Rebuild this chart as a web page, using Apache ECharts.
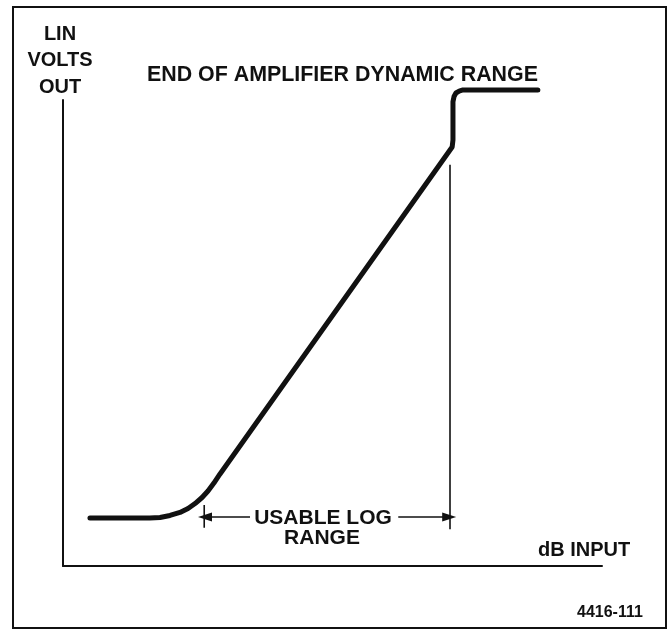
<!DOCTYPE html>
<html>
<head>
<meta charset="utf-8">
<script src="https://cdn.jsdelivr.net/npm/echarts@6/dist/echarts.min.js"></script>
<style>
  html, body { margin: 0; padding: 0; background: #fff; }
  #chart { width: 670px; height: 630px; }
</style>
</head>
<body>
<div id="chart"></div>
<script>
// Log amplifier transfer curve: dB input (x) against linear volts out (y), arbitrary units 0..100
const inputDb = [5.0, 16.1, 18.0, 19.85, 21.7, 23.2, 24.5, 25.8, 26.9, 28.0, 29.1,
                 72.2, 72.35, 72.35, 72.55, 72.9, 73.5, 74.2, 88.1];
const voltsOut = [10.3, 10.3, 10.4, 10.85, 11.5, 12.35, 13.4, 14.7, 16.1, 17.8, 19.7,
                  89.9, 91.4, 99.6, 100.75, 101.5, 101.9, 102.15, 102.15];

// Limits of the usable log range on the input axis
const usableRange = [26.2, 71.8];

// Text content
const titleText = 'END OF AMPLIFIER DYNAMIC RANGE';
const yAxisLabel = ['LIN', 'VOLTS', 'OUT'];
const xAxisLabel = 'dB INPUT';
const rangeLabel = ['USABLE LOG', 'RANGE'];
const figureId = '4416-111';

const INK = '#111';
const FONT = '"Liberation Sans", Arial, Helvetica, sans-serif';

const curve = inputDb.map((x, i) => [x, voltsOut[i]]);

const chart = echarts.init(document.getElementById('chart'), null, { renderer: 'canvas' });

const arrowY = 10.5;

function rangeArrow(fromX, toX) {
  return {
    silent: true,
    symbol: ['none', 'triangle'],
    symbolSize: [9, 14],
    label: { show: false },
    lineStyle: { color: INK, width: 1.6, type: 'solid' },
    itemStyle: { color: INK },
    data: [[{ coord: [fromX, arrowY] }, { coord: [toX, arrowY] }]]
  };
}

chart.setOption({
  backgroundColor: '#fff',
  animation: false,
  grid: { left: 63, right: 68, top: 100, bottom: 64 },
  xAxis: {
    type: 'value', min: 0, max: 100,
    axisLine: { show: true, lineStyle: { color: INK, width: 2 } },
    axisTick: { show: false }, axisLabel: { show: false }, splitLine: { show: false }
  },
  yAxis: {
    type: 'value', min: 0, max: 100,
    axisLine: { show: true, lineStyle: { color: INK, width: 2 } },
    axisTick: { show: false }, axisLabel: { show: false }, splitLine: { show: false }
  },
  series: [
    {
      // transfer curve
      type: 'line',
      data: curve,
      clip: false,
      smooth: false,
      symbol: 'none',
      lineStyle: { color: INK, width: 5, cap: 'round', join: 'round' },
      z: 5
    },
    {
      // lower limit of the usable range
      type: 'line',
      data: [[usableRange[0], 8.2], [usableRange[0], 13.1]],
      symbol: 'none',
      lineStyle: { color: INK, width: 1.6 },
      markLine: rangeArrow(34.7, usableRange[0] + 0.15)
    },
    {
      // upper limit of the usable range (end of dynamic range)
      type: 'line',
      data: [[usableRange[1], 7.9], [usableRange[1], 86.1]],
      symbol: 'none',
      lineStyle: { color: INK, width: 1.6 },
      markLine: rangeArrow(62.2, usableRange[1] - 0.15)
    }
  ],
  graphic: [
    {
      type: 'rect', silent: true,
      shape: { x: 13, y: 7, width: 653, height: 621 },
      style: { fill: 'none', stroke: INK, lineWidth: 2 }
    },
    {
      type: 'text', x: 147, y: 75,
      style: { text: titleText, font: 'bold 21.4px ' + FONT, fill: INK, textAlign: 'left', textVerticalAlign: 'middle' }
    },
    {
      type: 'text', x: 60, y: 21,
      style: { text: yAxisLabel.join('\n'), font: 'bold 20px ' + FONT, lineHeight: 26.5, fill: INK, textAlign: 'center', textVerticalAlign: 'top' }
    },
    {
      type: 'text', x: 538, y: 550,
      style: { text: xAxisLabel, font: 'bold 20px ' + FONT, fill: INK, textAlign: 'left', textVerticalAlign: 'middle' }
    },
    {
      type: 'text', x: 323, y: 518.5,
      style: { text: rangeLabel[0], font: 'bold 21px ' + FONT, fill: INK, textAlign: 'center', textVerticalAlign: 'middle' }
    },
    {
      type: 'text', x: 322, y: 538.5,
      style: { text: rangeLabel[1], font: 'bold 21px ' + FONT, fill: INK, textAlign: 'center', textVerticalAlign: 'middle' }
    },
    {
      type: 'text', x: 577, y: 613,
      style: { text: figureId, font: 'bold 16px ' + FONT, fill: INK, textAlign: 'left', textVerticalAlign: 'middle' }
    }
  ]
});
</script>
</body>
</html>
